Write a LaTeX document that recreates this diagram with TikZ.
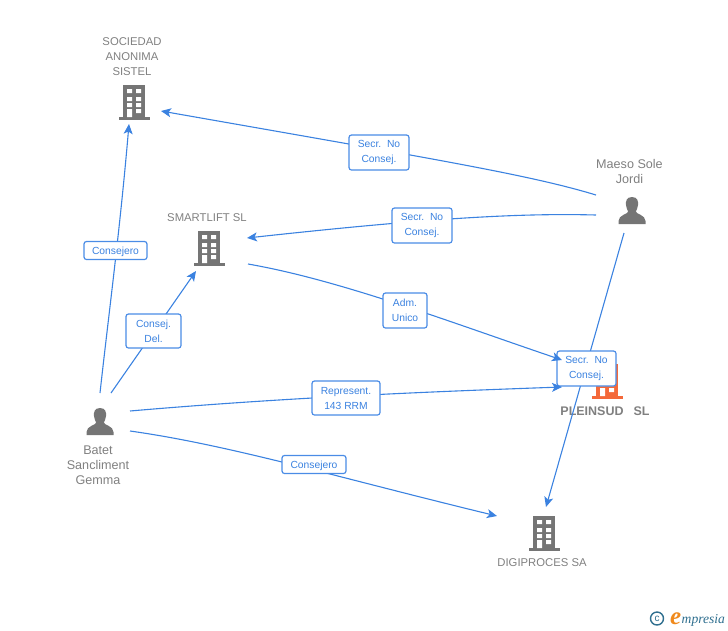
\documentclass[tikz,border=0pt]{standalone}
\usepackage{fontspec}
\setmainfont{Liberation Sans}
\newfontfamily\logofont{Liberation Serif}
\usetikzlibrary{arrows.meta}
\definecolor{linkblue}{HTML}{3B82E0}
\definecolor{tagblue}{HTML}{4A8CE6}
\definecolor{icongray}{HTML}{757575}
\definecolor{textgray}{HTML}{808080}
\definecolor{orangeicon}{HTML}{F4693A}
\definecolor{logoteal}{HTML}{2F6F8F}
\definecolor{logoorange}{HTML}{F08A1D}
\tikzset{
  x=1pt,y=-1pt,
  link/.style={draw=linkblue,line width=1.1pt,-{Stealth[length=10pt,width=9pt,inset=2.5pt]}},
  tag/.style={draw=tagblue,line width=1.2pt,fill=white,rounded corners=2.5pt,text=linkblue,align=center,
     font=\fontsize{10.3}{15}\selectfont,inner sep=0pt,execute at begin node={\rule{0pt}{10.5pt}}},
  caption/.style={text=textgray,align=center,font=\fontsize{11.3}{15}\selectfont,inner sep=0pt},
  personcap/.style={caption,font=\fontsize{12.6}{15}\selectfont},
  pics/building/.style={code={
    \fill[#1] (-11,0) rectangle (11,33);
    \fill[#1] (-15.5,32) rectangle (15.5,35);
    \fill[white] (-7,4) rectangle (-2,8) (2,4) rectangle (7,8)
                 (-7,12) rectangle (-2,16) (2,12) rectangle (7,16)
                 (-7,18) rectangle (-2,22) (2,18) rectangle (7,22)
                 (-7,24) rectangle (-2,32) (2,24) rectangle (7,28);
  }},
  pics/person/.style={code={
    \fill[icongray] (0,0) .. controls (-5.5,0) and (-6.5,4.5) .. (-6,8)
      .. controls (-5.8,11) and (-4.5,13) .. (-3.8,14.5)
      .. controls (-4,17) and (-13.5,18) .. (-13.5,24)
      -- (-13.5,27) -- (13.5,27) -- (13.5,24)
      .. controls (13.5,18) and (4,17) .. (3.8,14.5)
      .. controls (4.5,13) and (5.8,11) .. (6,8)
      .. controls (6.5,4.5) and (5.5,0) .. (0,0) -- cycle;
  }}
}
\begin{document}
\begin{tikzpicture}
\useasboundingbox (0,0) rectangle (728,630);
% icons
\pic at (134,85) {building=icongray};
\pic at (209,231) {building=icongray};
\pic at (544,516) {building=icongray};
\pic at (607,364) {building=orangeicon};
\pic at (100,408) {person};
\pic at (632,197) {person};
% captions
\node[caption] (sociedad) at (132,57) {SOCIEDAD\\ANONIMA\\SISTEL};
\node[caption] (smartlift) at (207,218) {SMARTLIFT SL};
\node[personcap] (maeso) at (629.5,171.5) {Maeso Sole\\Jordi};
\node[personcap] (batet) at (98,465) {Batet\\Sancliment\\Gemma};
\node[caption,font=\fontsize{12.5}{15}\selectfont\bfseries] (pleinsud) at (605,411) {PLEINSUD\hspace{10pt}SL};
\node[caption] (digiproces) at (542,563) {DIGIPROCES SA};
% connector end points
\coordinate (socR) at (161,111);
\coordinate (socB) at (129,124);
\coordinate (smaR) at (247,238);
\coordinate (smaB) at (196,271);
\coordinate (smaO) at (248,264);
\coordinate (maeA) at (596,195);
\coordinate (maeB) at (596,215);
\coordinate (maeC) at (624,233);
\coordinate (batA) at (100,393);
\coordinate (batB) at (111,393);
\coordinate (batC) at (130,411);
\coordinate (batD) at (130,431);
\coordinate (pleA) at (562,360);
\coordinate (pleB) at (562,387);
\coordinate (digT) at (546,507);
\coordinate (digL) at (497,516);
% connectors that run behind their tags
\draw[link] (maeC) -- (digT);
\draw[link] (maeA) .. controls (530,175) and (440,160) .. (socR);
\draw[link] (maeB) .. controls (520,213) and (430,218) .. (smaR);
\draw[link] (batA) .. controls (108,320) and (120,230) .. (socB);
\draw[link] (batB) -- (smaB);
\draw[link] (batD) .. controls (230,445) and (340,478) .. (digL);
\node[tag,minimum width=59pt,minimum height=35pt] (t8) at (586.5,368.5) {Secr.\ \ No\\Consej.};
% connectors whose heads lie over that tag
\draw[link] (smaO) .. controls (340,280) and (450,322) .. (pleA);
\draw[link] (batC) .. controls (280,398) and (420,392) .. (pleB);
% tags
\node[tag,minimum width=60pt,minimum height=35pt] (t1) at (379,152.5) {Secr.\ \ No\\Consej.};
\node[tag,minimum width=60pt,minimum height=35pt] (t2) at (422,225.5) {Secr.\ \ No\\Consej.};
\node[tag,minimum width=63pt,minimum height=18pt] (t3) at (115.5,250.5) {Consejero};
\node[tag,minimum width=55pt,minimum height=34pt] (t4) at (153.5,331) {Consej.\\Del.};
\node[tag,minimum width=44pt,minimum height=35pt] (t5) at (405,310.5) {Adm.\\Unico};
\node[tag,minimum width=68pt,minimum height=34pt] (t6) at (346,398) {Represent.\\143 RRM};
\node[tag,minimum width=64pt,minimum height=18pt] (t7) at (314,464.5) {Consejero};
% logo
\node[draw=logoteal,line width=1.4pt,circle,minimum size=13pt,inner sep=0pt,text=logoteal,font=\fontsize{10}{10}\selectfont] (logocopy) at (657,618.5) {c};
\node[inner sep=0pt,anchor=base west,text=logoorange,font=\logofont\itshape\bfseries\fontsize{25}{25}\selectfont] (logoe) at (670,624) {e};
\node[inner sep=0pt,anchor=base west,text=logoteal,font=\logofont\itshape\fontsize{13.6}{14}\selectfont] (logotext) at (681.5,623) {mpresia};
\end{tikzpicture}
\end{document}
